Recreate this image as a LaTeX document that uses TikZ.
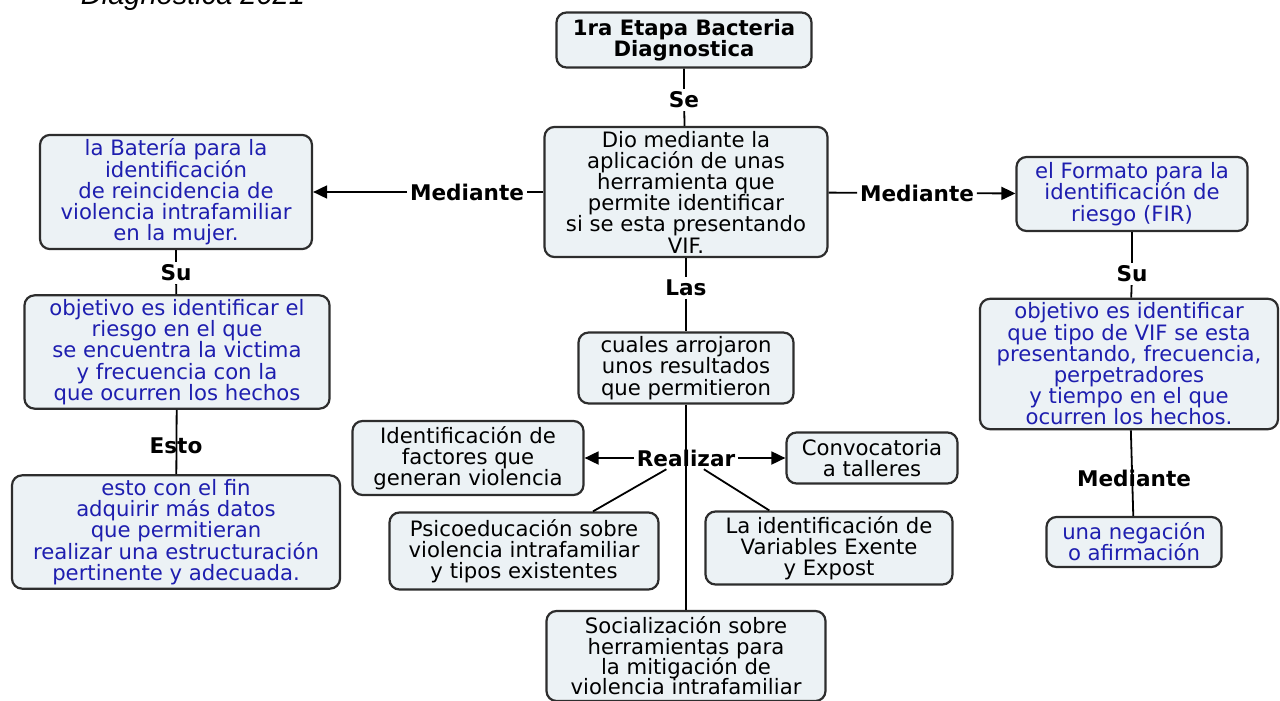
\documentclass[tikz,border=0pt]{standalone}
\usepackage{fontspec}
\setmainfont{DejaVu Sans}
\newfontfamily\captionfont{Liberation Sans}
\usetikzlibrary{positioning,arrows.meta}
\definecolor{boxfill}{RGB}{236,242,245}
\definecolor{boxline}{RGB}{45,45,45}
\definecolor{bluetext}{RGB}{30,30,175}
\newcommand{\boxfont}{\fontsize{10.6}{10.6}\selectfont\lineskiplimit=-5pt}
\newcommand{\tightfont}{\fontsize{10.6}{10.2}\selectfont\lineskiplimit=-5pt}
\tikzset{
conceptnode/.style={rectangle, rounded corners=5pt, draw=boxline, line width=1.1pt, fill=boxfill, font=\boxfont, inner sep=2pt},
bluenode/.style={conceptnode, text=bluetext},
linknode/.style={font=\fontsize{10.8}{11}\selectfont\bfseries, inner sep=1pt},
>={Triangle[width=6.5pt,length=7pt]}
}

\begin{document}
\begin{tikzpicture}[x=0.5pt, y=-0.5pt, align=center, line width=0.9pt]
\useasboundingbox (0,0) rectangle (1280,701);

\node[anchor=base west, inner sep=0pt, font=\captionfont\itshape\fontsize{14.5}{15}\selectfont] (titulo) at (80,5) {Diagnostica 2021};

%Concept nodes
\node[conceptnode, minimum width=127.5pt, minimum height=27.5pt, font=\boxfont\bfseries] (etapa) at(684,40) {1ra Etapa Bacteria\\Diagnostica};
\node[conceptnode, minimum width=141.5pt, minimum height=64.5pt] (dio) at(686,192) {Dio mediante la\\aplicación de unas\\herramienta que\\permite identificar\\si se esta presentando\\VIF.};
\node[bluenode, minimum width=136pt, minimum height=56pt] (bateria) at(176,192) {la Batería para la\\identificación\\de reincidencia de\\violencia intrafamiliar\\en la mujer.};
\node[bluenode, minimum width=115.5pt, minimum height=37pt] (formato) at(1132,194) {el Formato para la\\identificación de\\riesgo (FIR)};
\node[bluenode, minimum width=149pt, minimum height=64pt] (objder) at(1129,364) {objetivo es identificar\\que tipo de VIF se esta\\presentando, frecuencia,\\perpetradores\\y tiempo en el que\\ocurren los hechos.};
\node[bluenode, minimum width=87.5pt, minimum height=25pt] (negacion) at(1134,542) {una negación\\o afirmación};
\node[bluenode, minimum width=152.5pt, minimum height=55.5pt] (objizq) at(177,352) {objetivo es identificar el\\riesgo en el que\\se encuentra la victima\\y frecuencia con la\\que ocurren los hechos};
\node[bluenode, minimum width=164pt, minimum height=55.5pt] (fin) at(176,532) {esto con el fin\\adquirir más datos\\que permitieran\\realizar una estructuración\\pertinente y adecuada.};
\node[conceptnode, minimum width=107.5pt, minimum height=35pt] (cuales) at(686,368) {cuales arrojaron\\unos resultados\\que permitieron};
\node[conceptnode, minimum width=115.5pt, minimum height=37pt] (identif) at(468,458) {Identificación de\\factores que\\generan violencia};
\node[conceptnode, minimum width=85.5pt, minimum height=25.5pt] (convoc) at(872,458) {Convocatoria\\a talleres};
\node[conceptnode, minimum width=134.5pt, minimum height=38.5pt] (psico) at(524,551) {Psicoeducación sobre\\violencia intrafamiliar\\y tipos existentes};
\node[conceptnode, minimum width=123.5pt, minimum height=36.5pt] (variables) at(829,548) {La identificación de\\Variables Exente\\y Expost};
\node[conceptnode, minimum width=139.5pt, minimum height=45pt, font=\tightfont] (socia) at(686,656) {Socialización sobre\\herramientas para\\la mitigación de\\violencia intrafamiliar};

%Linking phrases
\node[linknode] (se) at(684,100) {Se};
\node[linknode] (medizq) at(467,192) {Mediante};
\node[linknode] (medder) at(917,193) {Mediante};
\node[linknode] (suizq) at(176,273) {Su};
\node[linknode] (esto) at(176,446) {Esto};
\node[linknode] (las) at(686,288) {Las};
\node[linknode] (suder) at(1132,274) {Su};
\node[linknode] (medabajo) at(1134,478) {Mediante};
\node[linknode] (realizar) at(686,458) {Realizar};

\draw (etapa) -- (se) -- (dio);
\draw (dio) -- (medizq);
\draw[->] (medizq) -- (bateria);
\draw (dio) -- (medder);
\draw[->] (medder) -- (formato);
\draw (bateria) -- (suizq) -- (objizq);
\draw (objizq) -- (fin);
\draw (formato) -- (suder) -- (objder);
\draw (objder) -- (negacion);
\draw (dio) -- (las) -- (cuales);
\draw (cuales) -- (socia);
\draw[->] (realizar) -- (identif);
\draw[->] (realizar) -- (convoc);
\draw (realizar) -- (psico);
\draw (realizar) -- (variables);
\end{tikzpicture}
\end{document}
